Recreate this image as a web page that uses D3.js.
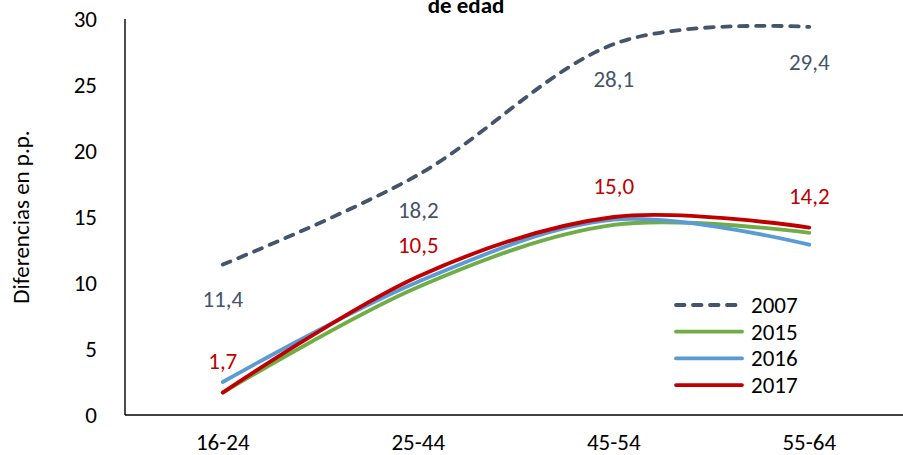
<!DOCTYPE html>
<html><head><meta charset="utf-8">
<script src="https://cdn.jsdelivr.net/npm/d3@7"></script>
<style>body{margin:0;background:#fff}svg{display:block}text{font-family:Carlito,Calibri,Lato,sans-serif}</style>
</head><body><svg id="c" width="903" height="455"></svg>
<script>
const categories = ["16-24","25-44","45-54","55-64"];
const seriesNames = ["2007","2015","2016","2017"];
const v2007 = [11.4, 18.2, 28.1, 29.4];
const v2015 = [1.7, 9.7, 14.4, 13.8];
const v2016 = [2.5, 10.1, 14.8, 12.9];
const v2017 = [1.7, 10.5, 15.0, 14.2];
const yTicks = [0,5,10,15,20,25,30];
const colors = {"2007":"#44546A","2015":"#70AD47","2016":"#5B9BD5","2017":"#C00000"};
const series = [
  {name:"2007", values:v2007, dash:"8.5,8.5", label:"below"},
  {name:"2015", values:v2015},
  {name:"2016", values:v2016},
  {name:"2017", values:v2017, label:"above"}
];
const FS = 23;
const FF = "Carlito,Calibri,Lato,sans-serif";

const svg = d3.select("#c");
const x = d3.scaleBand().domain(categories).range([125, 907]).padding(0);
const cx = c => x(c) + x.bandwidth()/2;
const y = d3.scaleLinear().domain([0,30]).range([415, 19]);

// title (visible part)
svg.append("text").attr("x",466).attr("y",13).attr("text-anchor","middle")
  .attr("font-weight","bold").attr("font-size",FS).text("de edad");

// y axis
const ya = svg.append("g").attr("transform","translate(125,0)")
  .call(d3.axisLeft(y).tickValues(yTicks).tickSize(0).tickPadding(28).tickFormat(d3.format("d")));
ya.select(".domain").attr("stroke","#000").attr("stroke-width",1.4).attr("d","M0,19V415");
ya.selectAll("text").attr("font-size",FS).attr("fill","#000").style("font-family",FF);

// x axis
const xa = svg.append("g").attr("transform","translate(0,415)")
  .call(d3.axisBottom(x).tickSize(0).tickPadding(19));
xa.select(".domain").attr("stroke","#000").attr("stroke-width",1.4).attr("d","M125,0H903");
xa.selectAll("text").attr("font-size",FS).attr("fill","#000").style("font-family",FF);

// y label
svg.append("text").attr("transform","translate(22,217) rotate(-90)").attr("text-anchor","middle")
  .attr("dy","0.32em").attr("font-size",FS).attr("fill","#000").text("Diferencias en p.p.");

const line = d3.line().x((d,i)=>cx(categories[i])).y(d=>y(d)).curve(d3.curveCardinal.tension(0));

series.forEach(s=>{
  svg.append("path").datum(s.values).attr("d",line).attr("fill","none")
    .attr("stroke",colors[s.name]).attr("stroke-width",3.8).attr("stroke-linecap","round")
    .attr("stroke-dasharray",s.dash||null);
});

// data labels
const fmt = v => d3.format(".1f")(v).replace(".",",");
series.filter(s=>s.label).forEach(s=>{
  svg.append("g").selectAll("text").data(s.values).join("text")
    .attr("x",(d,i)=>cx(categories[i]))
    .attr("y",d=> s.label==="below" ? y(d)+35 : y(d)-31)
    .attr("dy","0.34em").attr("text-anchor","middle").attr("font-size",FS)
    .attr("fill",colors[s.name]).text(fmt);
});

// legend
const lg = svg.append("g");
seriesNames.forEach((n,i)=>{
  const s = series.find(d=>d.name===n);
  const yy = 305 + i*26.7;
  lg.append("line").attr("x1",676).attr("x2",742).attr("y1",yy).attr("y2",yy)
    .attr("stroke",colors[n]).attr("stroke-width",3.8).attr("stroke-linecap","round")
    .attr("stroke-dasharray",s.dash||null);
  lg.append("text").attr("x",751).attr("y",yy).attr("dy","0.34em").attr("font-size",FS)
    .attr("fill","#000").text(n);
});
</script></body></html>
